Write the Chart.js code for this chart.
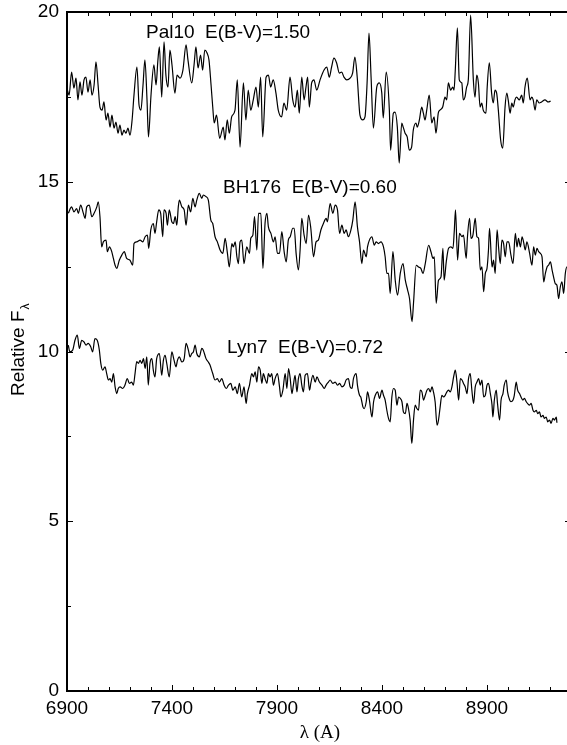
<!DOCTYPE html><html lang="en">
<head>
<meta charset="utf-8"/>
<title>Spectra Pal10, BH176, Lyn7</title>
<script src="https://cdn.jsdelivr.net/npm/chart.js"></script>
<style>
  html,body{margin:0;padding:0;background:#fff;overflow:hidden}
  canvas{display:block}
</style>
</head>
<body>
<canvas id="chart" width="575" height="745"></canvas>
<script>
// -------- data --------
const xTicks = [6900, 7400, 7900, 8400, 8900];
const yTicks = [0, 5, 10, 15, 20];
const xMinorStep = 100, yMinorStep = 2.5;
const xRange = [6900, 9300], yRange = [0, 20];

const pal10Wave = [6902,6910,6922,6933,6943,6952,6962,6971,6981,6990,7000,7010,7019,7029,7038,7048,7057,7067,7076,7086,
  7095,7105,7114,7124,7133,7143,7152,7162,7171,7181,7190,7200,7210,7219,7233,7243,7252,7262,7271,7281,
  7288,7300,7314,7324,7333,7340,7351,7362,7371,7381,7390,7400,7414,7424,7438,7452,7467,7476,7494,7505,
  7514,7524,7536,7546,7556,7567,7576,7586,7594,7601,7612,7627,7644,7652,7663,7673,7684,7700,7711,7724,
  7740,7752,7763,7775,7787,7800,7811,7822,7832,7848,7859,7870,7882,7895,7906,7922,7933,7946,7962,7975,
  7986,7997,8006,8018,8029,8038,8046,8054,8065,8076,8089,8105,8124,8137,8149,8160,8171,8184,8197,8208,
  8219,8232,8248,8260,8271,8282,8295,8308,8319,8329,8338,8348,8359,8375,8387,8399,8406,8420,8435,8441,
  8454,8462,8473,8482,8494,8501,8510,8520,8530,8541,8549,8562,8568,8578,8589,8597,8605,8613,8625,8637,
  8648,8657,8668,8676,8689,8700,8708,8716,8727,8737,8743,8749,8759,8768,8780,8787,8795,8803,8811,8822,
  8835,8843,8851,8859,8867,8875,8882,8895,8901,8911,8922,8930,8938,8946,8954,8965,8975,8986,8994,9001,
  9010,9018,9025,9033,9041,9054,9065,9073,9081,9092,9105,9113,9120,9129,9137,9149,9160,9176,9192,9203];
const pal10Flux = [17.70,17.55,18.23,17.76,18.05,17.41,17.94,17.55,18.00,18.08,17.64,18.00,17.55,17.85,18.53,17.85,17.20,17.11,17.35,16.82,
  17.02,16.61,16.96,16.58,16.76,16.43,16.67,16.37,16.52,16.43,16.58,16.37,16.82,17.55,18.38,17.26,17.11,17.85,18.59,17.41,
  16.32,17.55,18.44,17.85,18.59,18.97,17.49,19.12,18.14,17.79,18.88,18.44,17.61,18.14,18.05,18.29,19.03,18.59,17.91,18.44,
  18.97,18.35,18.73,18.29,18.88,18.79,18.59,17.85,17.20,16.73,16.96,16.28,16.61,16.23,16.82,16.43,16.91,17.11,18.00,16.02,
  17.91,16.82,17.70,17.11,17.41,17.79,17.20,18.08,16.32,18.08,18.14,17.79,18.00,17.61,17.11,16.91,17.32,17.11,18.08,17.41,
  17.20,17.70,17.02,18.08,17.41,17.79,18.08,17.20,17.91,18.00,17.70,18.00,18.29,18.38,18.08,18.38,18.64,18.50,18.20,18.23,
  18.08,18.00,18.05,18.20,18.67,18.08,16.96,16.82,16.91,17.91,19.38,18.08,16.58,17.79,17.91,17.61,16.88,18.23,17.11,15.93,
  17.02,17.05,16.61,15.55,16.73,16.61,16.43,16.32,15.93,16.02,16.52,16.73,16.61,16.82,17.20,17.02,16.82,17.11,17.55,16.73,
  16.91,16.43,17.02,17.11,17.20,17.49,17.41,17.91,17.70,17.79,17.70,18.29,19.53,18.00,17.91,17.41,17.49,17.79,18.00,19.91,
  18.00,17.49,18.14,17.91,17.20,17.32,17.11,17.02,17.79,18.50,17.61,17.32,17.70,17.61,17.11,16.23,15.99,17.20,17.61,17.41,
  17.02,17.32,17.20,17.41,17.49,17.41,17.55,17.32,17.79,18.05,17.41,17.49,17.41,17.11,17.41,17.32,17.35,17.41,17.35,17.38];

const bh176Wave = [6906,6922,6933,6946,6954,6965,6978,6986,6994,7006,7018,7029,7042,7049,7057,7065,7073,7086,7092,7102,
  7113,7121,7129,7137,7149,7161,7173,7184,7200,7213,7219,7232,7248,7261,7272,7283,7289,7299,7311,7319,
  7327,7337,7346,7356,7362,7372,7378,7387,7399,7407,7415,7423,7430,7435,7447,7458,7467,7478,7489,7499,
  7510,7518,7530,7542,7549,7562,7573,7585,7594,7605,7616,7629,7642,7653,7664,7673,7685,7692,7701,7709,
  7716,7724,7732,7743,7756,7769,7775,7785,7793,7804,7812,7823,7833,7843,7852,7859,7871,7883,7891,7902,
  7912,7923,7934,7944,7954,7963,7975,7982,7991,8002,8010,8018,8029,8039,8050,8061,8074,8086,8097,8109,
  8121,8134,8140,8153,8166,8177,8188,8198,8209,8220,8229,8240,8252,8261,8272,8283,8293,8304,8312,8325,
  8331,8340,8352,8363,8372,8383,8395,8407,8415,8423,8431,8439,8452,8463,8474,8487,8500,8511,8522,8531,
  8543,8550,8563,8574,8585,8595,8606,8622,8633,8643,8649,8658,8669,8681,8690,8696,8706,8717,8728,8738,
  8744,8750,8760,8769,8781,8788,8801,8807,8817,8824,8833,8844,8852,8860,8868,8876,8884,8892,8900,8907,
  8912,8924,8931,8939,8948,8955,8963,8971,8979,8987,8995,9003,9014,9024,9035,9043,9050,9059,9067,9074,
  9082,9090,9103,9114,9122,9130,9138,9146,9154,9162,9170,9178,9186,9193,9202,9210,9217,9225,9233,9241,
  9249,9257,9265,9273,9281,9297];
const bh176Flux = [14.07,14.26,14.11,14.21,14.07,14.31,14.07,13.92,14.26,14.31,13.97,14.07,14.26,14.41,13.97,13.08,13.23,13.28,12.94,13.08,
  12.94,12.74,12.54,12.45,12.69,12.84,12.94,12.74,12.69,12.54,13.18,13.23,13.28,13.23,13.38,13.43,13.04,13.58,13.77,13.48,
  13.82,14.17,14.07,13.38,14.17,14.07,13.72,14.17,13.82,13.77,13.97,13.72,14.26,14.46,14.26,14.17,13.72,14.31,14.11,14.51,
  14.26,14.46,14.66,14.51,14.61,14.56,14.46,13.87,13.77,13.38,13.23,12.99,12.89,13.33,12.89,12.49,13.18,13.08,13.23,12.79,
  12.59,13.23,13.28,12.59,13.08,12.89,13.33,13.43,13.97,12.99,14.07,14.07,12.45,13.77,14.07,13.67,13.48,13.23,13.38,12.89,
  12.89,13.53,12.94,12.64,13.28,13.38,13.63,13.63,12.89,12.40,12.99,13.92,13.43,13.18,14.02,13.63,12.79,13.23,13.28,13.58,
  13.77,13.92,13.82,14.36,14.07,14.31,14.17,13.48,13.72,13.48,13.58,13.38,13.58,13.87,14.41,13.67,13.23,12.59,12.99,12.79,
  13.08,13.28,13.38,13.13,13.23,13.18,13.23,13.08,12.79,12.30,12.30,11.71,12.94,12.10,11.66,12.30,12.59,12.10,11.81,11.56,
  10.88,11.42,12.54,12.49,12.45,12.30,12.59,13.13,12.94,12.74,12.79,11.42,12.10,12.20,13.04,12.10,12.64,13.04,13.08,13.04,
  13.53,14.17,12.69,13.48,13.38,13.43,12.74,13.38,13.92,13.33,13.43,13.92,13.38,13.33,12.40,12.49,11.76,12.30,12.45,12.99,
  13.63,12.49,12.69,12.30,13.58,13.08,12.59,13.28,13.18,12.79,13.23,13.23,12.84,12.59,13.48,13.08,13.33,13.08,13.38,13.23,
  12.99,13.23,12.89,12.54,13.08,12.84,13.04,12.94,12.89,12.79,12.05,12.30,12.49,12.54,12.64,12.40,12.20,12.00,11.95,11.56,
  11.90,12.05,11.71,12.30,12.49,12.40];

const lyn7Wave = [6906,6914,6927,6938,6949,6959,6970,6981,6991,7001,7013,7022,7033,7044,7054,7061,7070,7081,7089,7097,
  7105,7113,7121,7129,7137,7144,7153,7165,7176,7187,7197,7208,7216,7224,7232,7240,7248,7256,7264,7272,
  7280,7287,7295,7304,7311,7319,7327,7340,7351,7359,7367,7375,7387,7399,7410,7419,7426,7435,7447,7458,
  7467,7478,7486,7494,7502,7510,7518,7530,7542,7549,7562,7573,7581,7594,7605,7616,7626,7637,7648,7658,
  7669,7680,7690,7701,7711,7721,7732,7743,7753,7759,7769,7780,7788,7796,7804,7812,7820,7828,7835,7843,
  7852,7859,7867,7875,7883,7891,7902,7912,7918,7928,7939,7947,7955,7963,7971,7978,7986,7995,8002,8010,
  8018,8026,8034,8045,8055,8061,8071,8082,8090,8102,8114,8125,8134,8145,8153,8166,8177,8188,8198,8209,
  8220,8229,8240,8248,8257,8264,8277,8283,8293,8299,8309,8315,8325,8331,8340,8352,8360,8368,8379,8388,
  8400,8407,8415,8423,8431,8439,8447,8455,8463,8471,8479,8487,8495,8502,8511,8519,8526,8534,8542,8550,
  8558,8566,8574,8582,8590,8598,8606,8614,8622,8630,8638,8645,8653,8662,8669,8677,8685,8693,8701,8709,
  8717,8725,8733,8741,8749,8757,8765,8773,8781,8788,8796,8805,8812,8820,8828,8836,8844,8852,8860,8868,
  8876,8884,8892,8900,8907,8916,8924,8928,8935,8944,8950,8960,8967,8976,8982,8992,8998,9008,9014,9024,
  9030,9039,9046,9055,9062,9071,9078,9087,9093,9103,9110,9119,9125,9135,9141,9150,9157,9167,9173,9182,
  9189,9198,9205,9214,9221,9230,9233];
const lyn7Flux = [10.19,9.99,10.04,10.33,10.48,10.09,10.33,10.28,10.19,10.24,10.14,9.99,10.38,10.33,10.04,9.65,9.45,9.55,9.35,9.16,
  9.20,9.10,9.35,8.96,8.76,8.91,8.96,8.91,9.01,9.20,9.06,9.10,9.01,9.35,9.70,9.65,9.74,9.65,9.79,9.50,
  9.84,9.01,9.65,9.79,9.45,9.25,9.79,9.94,9.30,9.74,9.89,9.65,9.25,9.99,9.74,9.55,9.74,9.84,9.69,9.79,
  10.24,10.04,9.84,9.94,9.99,10.19,9.94,9.84,10.09,10.04,9.79,9.69,9.60,9.35,9.16,9.20,9.10,9.20,9.01,8.91,
  9.01,9.06,8.86,8.96,8.76,9.06,8.66,8.96,8.47,8.76,9.01,9.35,9.25,9.40,9.10,9.55,9.45,9.06,9.35,9.20,
  9.06,9.35,9.25,9.35,9.01,9.20,9.35,8.96,8.66,8.86,9.35,8.91,9.50,9.20,8.76,9.01,9.30,8.81,9.20,9.35,
  9.01,8.81,9.30,9.35,8.86,9.06,9.30,9.10,9.25,9.10,9.01,8.91,9.01,9.10,9.16,9.06,9.10,9.01,9.06,8.96,
  9.01,9.16,9.20,8.96,8.91,9.20,9.35,9.01,8.71,8.66,8.37,8.32,8.52,8.81,8.57,8.07,8.52,8.71,8.81,8.62,
  8.86,8.71,8.57,8.27,8.03,7.93,8.66,8.91,8.86,8.42,8.66,8.62,8.52,8.22,8.17,8.47,8.32,7.98,7.29,7.98,
  8.42,8.32,8.27,8.86,8.81,8.57,8.71,8.86,8.91,8.81,8.96,8.81,8.52,7.83,7.98,8.37,8.71,8.66,8.71,8.81,
  8.86,8.81,8.96,9.25,9.45,9.10,8.57,9.20,9.16,9.06,8.96,8.76,9.20,9.35,8.86,8.47,8.96,9.10,9.20,9.01,
  9.16,8.66,8.71,9.01,9.06,8.76,8.42,8.07,8.57,8.86,8.47,7.98,8.57,8.76,9.01,9.16,8.81,8.57,8.52,8.57,
  8.71,9.10,8.86,8.76,8.66,8.57,8.62,8.52,8.47,8.42,8.47,8.27,8.22,8.27,8.17,8.22,8.07,8.12,8.03,8.07,
  7.93,7.98,7.88,8.03,7.98,8.07,7.90];

// labels written next to each spectrum: text, wavelength and flux of the text's left/middle
const specLabels = [
  {text: 'Pal10  E(B-V)=1.50', at: [7276, 19.38]},
  {text: 'BH176  E(B-V)=0.60', at: [7643, 14.81]},
  {text: 'Lyn7  E(B-V)=0.72',  at: [7662, 10.10]}
];

// -------- helpers --------
const zip = (w, f) => w.map((v, i) => ({x: v, y: f[i]}));
const SANS = '"Liberation Sans", Arial, Helvetica, sans-serif';
const SERIF = '"Liberation Serif", "Times New Roman", serif';

function line(ctx, x1, y1, x2, y2){
  ctx.beginPath(); ctx.moveTo(x1, y1); ctx.lineTo(x2, y2); ctx.stroke();
}

// frame, inward ticks on all four sides, axis titles and spectrum labels
const decor = {
  id: 'decor',
  afterDraw(c){
    const {ctx, chartArea: a, scales: {x, y}} = c;
    ctx.save();
    ctx.strokeStyle = '#000';
    ctx.fillStyle = '#000';
    ctx.lineWidth = 1;
    for(let v = xRange[0]; v <= xRange[1] + 1e-6; v += xMinorStep){
      const px = Math.round(x.getPixelForValue(v)) + 0.5;
      const len = xTicks.includes(v) ? 6 : 4;
      line(ctx, px, a.bottom, px, a.bottom - len);
      line(ctx, px, a.top, px, a.top + len);
    }
    for(let v = yRange[0]; v <= yRange[1] + 1e-6; v += yMinorStep){
      const py = Math.round(y.getPixelForValue(v)) + 0.5;
      const len = yTicks.includes(v) ? 6 : 4;
      line(ctx, a.left, py, a.left + len, py);
      line(ctx, a.right, py, a.right - len, py);
    }
    ctx.lineWidth = 2;
    ctx.strokeRect(a.left, a.top, a.right - a.left, a.bottom - a.top);

    // spectrum labels
    ctx.font = '19px ' + SANS;
    ctx.textAlign = 'left';
    ctx.textBaseline = 'middle';
    specLabels.forEach(l => {
      ctx.fillText(l.text, x.getPixelForValue(l.at[0]), y.getPixelForValue(l.at[1]));
    });

    // x title
    ctx.font = '19px ' + SERIF;
    ctx.textAlign = 'center';
    ctx.fillText('\u03bb (A)', (a.left + a.right) / 2 + 1, 733);

    // y title with subscript lambda
    ctx.translate(24, 396);
    ctx.rotate(-Math.PI / 2);
    ctx.font = '19px ' + SANS;
    ctx.textAlign = 'left';
    ctx.textBaseline = 'alphabetic';
    const main = 'Relative F';
    ctx.fillText(main, 0, 0);
    const w = ctx.measureText(main).width;
    ctx.font = '12px ' + SANS;
    ctx.fillText('\u03bb', w + 1, 5);
    ctx.restore();
  }
};

const spec = (data) => ({
  data, borderColor: '#000', borderWidth: 1.2, pointRadius: 0,
  cubicInterpolationMode: 'monotone', fill: false
});

new Chart(document.getElementById('chart'), {
  type: 'line',
  data: {
    datasets: [spec(zip(pal10Wave, pal10Flux)), spec(zip(bh176Wave, bh176Flux)), spec(zip(lyn7Wave, lyn7Flux))]
  },
  options: {
    responsive: false,
    animation: false,
    layout: {padding: {left: 0, right: 4, top: 12, bottom: 0}},
    plugins: {legend: {display: false}, tooltip: {enabled: false}},
    scales: {
      x: {
        type: 'linear', min: xRange[0], max: xRange[1],
        grid: {display: false, drawTicks: false, tickLength: 0}, border: {display: false},
        afterBuildTicks: s => { s.ticks = xTicks.map(v => ({value: v})); },
        afterFit: s => { s.height = 54; s.paddingLeft = 0; s.paddingRight = 0; },
        ticks: {color: '#000', font: {size: 19, family: SANS}, padding: 6, maxRotation: 0, autoSkip: false,
                callback: v => String(v)}
      },
      y: {
        min: yRange[0], max: yRange[1],
        grid: {display: false, drawTicks: false, tickLength: 0}, border: {display: false},
        afterBuildTicks: s => { s.ticks = yTicks.map(v => ({value: v})); },
        afterFit: s => { s.width = 67; s.paddingTop = 0; s.paddingBottom = 0; },
        ticks: {color: '#000', font: {size: 19, family: SANS}, padding: 8}
      }
    }
  },
  plugins: [decor]
});
</script>
</body>
</html>
